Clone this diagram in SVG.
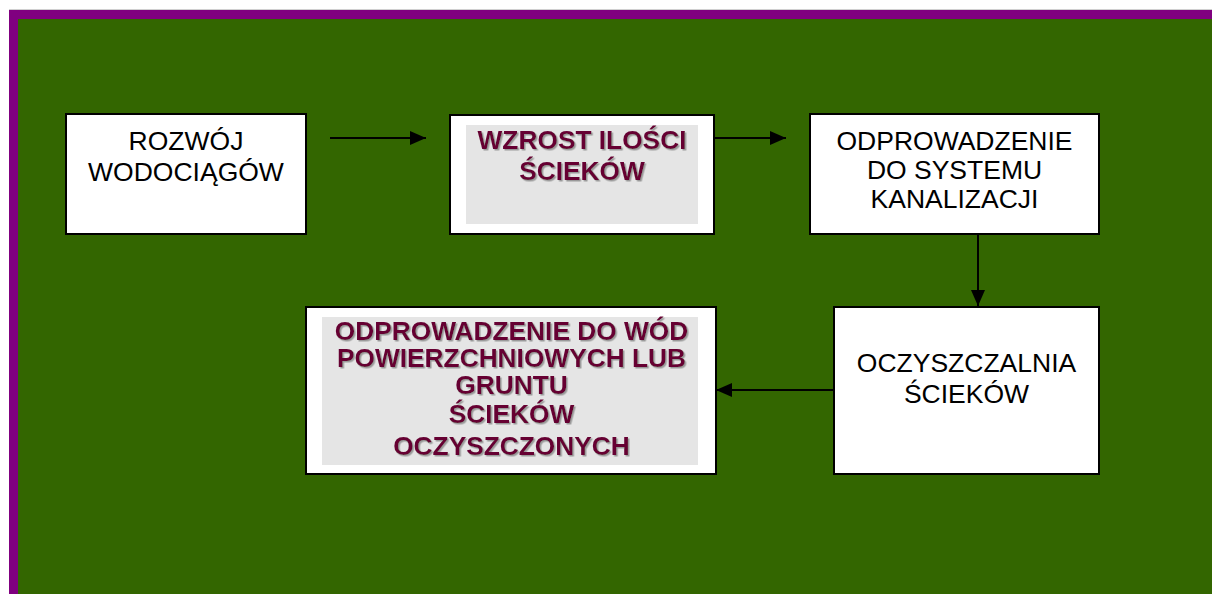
<svg xmlns="http://www.w3.org/2000/svg" width="1212" height="594" viewBox="0 0 1212 594">
<defs>
<style>
.box{fill:#ffffff;stroke:#000000;stroke-width:2}
.inner{fill:#e5e5e5}
.reg{font-family:"Liberation Sans",Arial,sans-serif;font-size:26.5px;fill:#000000;text-anchor:middle}
.bold{font-family:"Liberation Sans",Arial,sans-serif;font-size:26.3px;font-weight:bold;fill:#660033;text-anchor:middle;filter:url(#shadow)}
.conn{stroke:#000000;stroke-width:2;fill:none;marker-end:url(#ah)}
</style>
<filter id="shadow" x="-5%" y="-20%" width="110%" height="140%">
<feDropShadow dx="1.5" dy="1.5" stdDeviation="0.3" flood-color="#9a9a9a" flood-opacity="1"/>
</filter>
<marker id="ah" viewBox="0 0 16 14" refX="16" refY="7" markerWidth="16" markerHeight="14" markerUnits="userSpaceOnUse" orient="auto">
<path d="M0,0 L16,7 L0,14 Z" fill="#000000"/>
</marker>
</defs>
<rect x="0" y="0" width="1212" height="594" fill="#ffffff"/>
<rect x="9" y="9" width="1203" height="1" fill="#d0d0d0"/>
<rect x="9" y="10" width="1203" height="584" fill="#800080"/>
<rect x="18" y="19" width="1194" height="575" fill="#336600"/>

<g id="connectors">
<line class="conn" x1="330" y1="138" x2="426" y2="138"/>
<line class="conn" x1="714" y1="138" x2="786" y2="138"/>
<line class="conn" x1="978" y1="235" x2="978" y2="306"/>
<line class="conn" x1="834" y1="390" x2="716" y2="390"/>
</g>

<g id="node-rozwoj">
<rect class="box" x="66" y="114" width="240" height="120"/>
<text class="reg" x="186" y="150">ROZWÓJ</text>
<text class="reg" x="186" y="181">WODOCIĄGÓW</text>
</g>

<g id="node-wzrost">
<rect class="box" x="450" y="115" width="264" height="119"/>
<rect class="inner" x="466" y="125" width="232" height="99"/>
<text class="bold" x="582" y="149">WZROST ILOŚCI</text>
<text class="bold" x="582" y="180">ŚCIEKÓW</text>
</g>

<g id="node-odprowadzenie-kanalizacja">
<rect class="box" x="810" y="114" width="289" height="120"/>
<text class="reg" x="954.5" y="150">ODPROWADZENIE</text>
<text class="reg" x="954.5" y="179">DO SYSTEMU</text>
<text class="reg" x="954.5" y="208">KANALIZACJI</text>
</g>

<g id="node-oczyszczalnia">
<rect class="box" x="834" y="307" width="265" height="167"/>
<text class="reg" x="966.5" y="372">OCZYSZCZALNIA</text>
<text class="reg" x="966.5" y="403">ŚCIEKÓW</text>
</g>

<g id="node-odprowadzenie-wody">
<rect class="box" x="306" y="307" width="410" height="167"/>
<rect class="inner" x="322" y="317" width="376" height="148"/>
<text class="bold" x="511.5" y="340">ODPROWADZENIE DO WÓD</text>
<text class="bold" x="511.5" y="367">POWIERZCHNIOWYCH LUB</text>
<text class="bold" x="511.5" y="394">GRUNTU</text>
<text class="bold" x="511.5" y="423">ŚCIEKÓW</text>
<text class="bold" x="511.5" y="455">OCZYSZCZONYCH</text>
</g>
</svg>
